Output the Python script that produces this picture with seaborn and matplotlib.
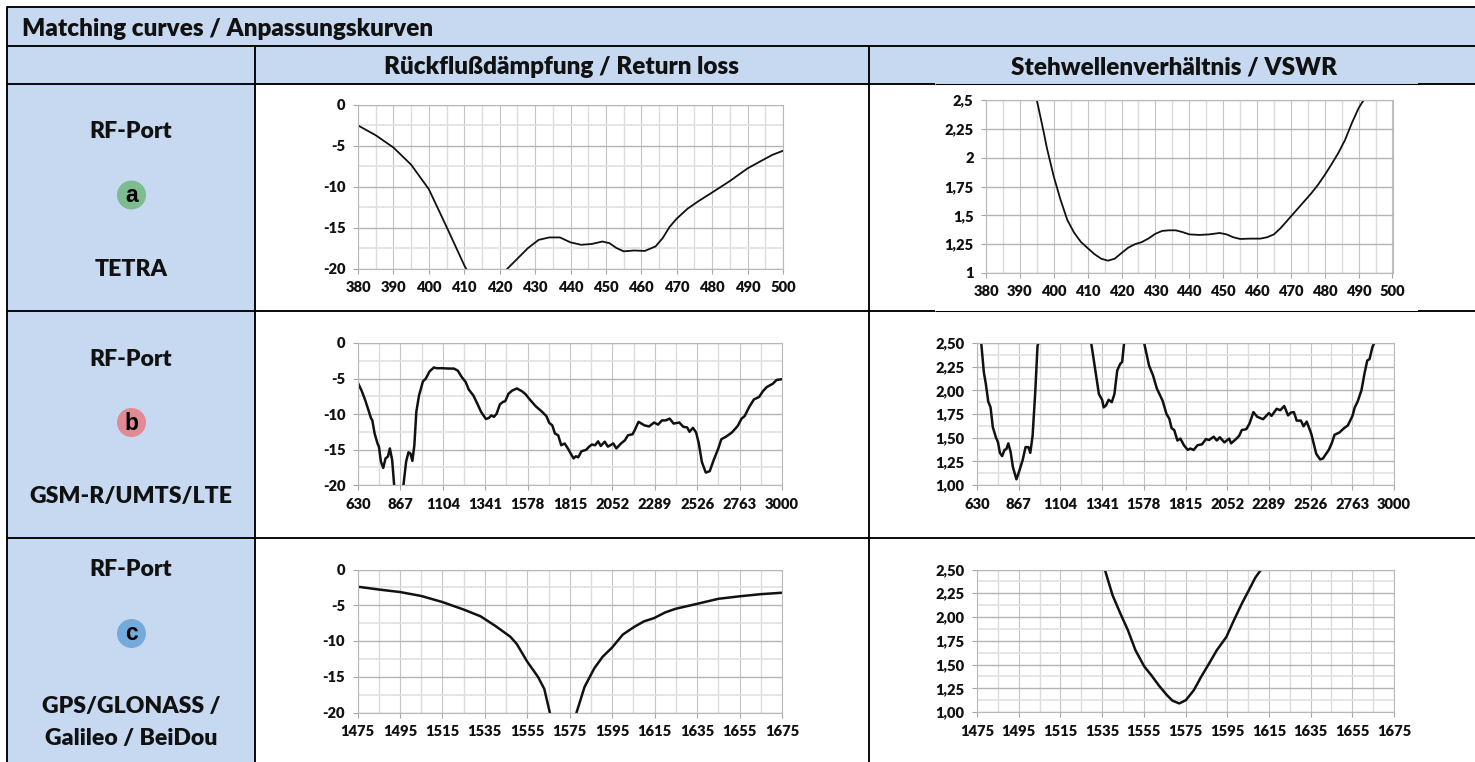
import numpy as np
import matplotlib
matplotlib.use('Agg')
import matplotlib.pyplot as plt
import seaborn as sns
from matplotlib.patches import Rectangle, Circle

# TETRA
tetra_rl_x = [380, 385, 390, 395, 400, 405, 410, 411, 416, 422, 425, 428, 431, 434, 437, 440, 443, 446, 449, 451,
              453, 455, 458, 461, 464, 466, 468, 470, 473, 476, 480, 485, 490, 494, 497, 500]
tetra_rl_y = [-2.5, -3.7, -5.2, -7.3, -10.3, -14.9, -19.6, -20.4, -26, -20.1, -18.8, -17.5, -16.5, -16.2, -16.2, -16.8,
              -17.1, -17.0, -16.7, -16.9, -17.5, -17.9, -17.8, -17.85, -17.3, -16.3, -14.9, -13.9, -12.7, -11.8,
              -10.7, -9.3, -7.75, -6.8, -6.1, -5.6]
tetra_vswr_x = [393, 395, 397, 398, 400, 402, 404, 406, 408, 410, 412, 414, 416, 418, 420, 422, 424, 426, 428, 430,
                432, 434, 436, 438, 440, 443, 446, 449, 451, 453, 455, 458, 461, 463, 465, 467, 470, 473, 476, 478,
                480, 482, 484, 486, 488, 490, 491.5, 493]
tetra_vswr_y = [2.75, 2.5, 2.226, 2.08, 1.837, 1.635, 1.46, 1.35, 1.27, 1.216, 1.164, 1.124, 1.107, 1.124, 1.173, 1.22,
                1.25, 1.268, 1.30, 1.34, 1.365, 1.37, 1.37, 1.355, 1.335, 1.33, 1.335, 1.347, 1.335, 1.31, 1.295,
                1.298, 1.298, 1.31, 1.335, 1.39, 1.49, 1.59, 1.69, 1.765, 1.85, 1.943, 2.04, 2.154, 2.30, 2.43, 2.5, 2.6]

# GSM-R/UMTS/LTE
gsm_rl_x = [630, 650, 671, 689, 702, 710, 723, 739, 747, 758, 771, 784, 797, 808, 821, 832, 841, 867, 884, 899, 912,
            923, 934, 945, 956, 971, 993, 1008, 1030, 1054, 1069, 1101, 1134, 1166, 1188, 1210, 1232, 1249, 1275,
            1297, 1318, 1345, 1362, 1375, 1390, 1405, 1423, 1440, 1453, 1471, 1492, 1518, 1547, 1568, 1590, 1623,
            1655, 1683, 1699, 1716, 1731, 1749, 1766, 1785, 1803, 1822, 1835, 1848, 1861, 1879, 1905, 1922, 1937,
            1955, 1972, 1987, 2009, 2027, 2057, 2074, 2100, 2122, 2139, 2165, 2181, 2198, 2231, 2257, 2285, 2307,
            2329, 2351, 2372, 2394, 2426, 2448, 2470, 2483, 2502, 2520, 2535, 2552, 2574, 2596, 2618, 2644, 2661,
            2687, 2720, 2752, 2774, 2791, 2817, 2843, 2872, 2893, 2915, 2948, 2970, 3000]
gsm_rl_y = [-5.65, -6.7, -8.1, -9.5, -10.55, -10.9, -12.75, -14.15, -14.6, -16.7, -17.6, -16.25, -16.0, -14.85, -16.5,
            -20, -21.9, -21.9, -20, -16.7, -15.4, -15.55, -16.6, -14.4, -9.7, -7.4, -5.4, -5.05, -4.0, -3.45, -3.55,
            -3.55, -3.6, -3.6, -3.9, -4.8, -5.5, -6.55, -7.4, -8.55, -9.7, -10.7, -10.55, -10.2, -10.4, -9.95, -8.65,
            -8.3, -8.2, -7.15, -6.7, -6.4, -6.8, -7.25, -7.95, -8.9, -9.6, -10.3, -11.25, -11.6, -12.75, -13, -14.4,
            -14.15, -14.85, -15.7, -16.25, -15.95, -16.1, -15.25, -15.05, -14.6, -14.3, -14.4, -13.85, -14.5, -13.9,
            -14.6, -14.15, -14.85, -14.15, -13.7, -13, -12.85, -12.05, -11.1, -11.6, -11.75, -11.2, -11.5, -10.9,
            -10.9, -10.65, -11.35, -11.2, -11.8, -11.9, -12.5, -11.95, -12.6, -14.15, -16.75, -18.25, -18.05, -16.5,
            -14.85, -13.55, -13.2, -12.6, -11.7, -10.65, -10.3, -9.0, -7.95, -7.6, -6.8, -6.2, -5.75, -5.2, -5.1]
gsm_vswr_x = [640, 654, 669, 680, 694, 707, 720, 738, 749, 760, 773, 786, 797, 808, 821, 834, 854, 869, 889, 906, 922,
              933, 946, 961, 974, 979, 988, 1100, 1250, 1279, 1301, 1323, 1341, 1350, 1363, 1378, 1396, 1411, 1427,
              1444, 1455, 1466, 1475, 1520, 1580, 1608, 1630, 1652, 1685, 1707, 1723, 1736, 1751, 1769, 1786, 1806,
              1828, 1843, 1861, 1883, 1909, 1931, 1949, 1975, 1993, 2010, 2036, 2063, 2074, 2102, 2120, 2135, 2161,
              2179, 2201, 2223, 2256, 2289, 2304, 2333, 2354, 2376, 2398, 2414, 2431, 2447, 2471, 2486, 2504, 2530,
              2558, 2580, 2596, 2629, 2646, 2662, 2690, 2716, 2738, 2764, 2777, 2793, 2815, 2832, 2848, 2861, 2877,
              2888, 2900]
gsm_vswr_y = [2.9, 2.5, 2.19, 2.07, 1.88, 1.82, 1.61, 1.50, 1.455, 1.34, 1.305, 1.37, 1.38, 1.44, 1.35, 1.19, 1.06,
              1.14, 1.26, 1.40, 1.40, 1.34, 1.52, 1.98, 2.47, 2.5, 2.68, 4.9, 3.0, 2.5, 2.23, 1.96, 1.90, 1.82, 1.84,
              1.90, 1.875, 1.96, 2.21, 2.28, 2.30, 2.5, 2.65, 2.9, 2.5, 2.26, 2.16, 2.02, 1.89, 1.75, 1.70, 1.60, 1.58,
              1.47, 1.49, 1.42, 1.37, 1.385, 1.37, 1.42, 1.43, 1.485, 1.475, 1.51, 1.47, 1.505, 1.45, 1.49, 1.44,
              1.485, 1.52, 1.58, 1.59, 1.65, 1.77, 1.72, 1.695, 1.76, 1.73, 1.805, 1.79, 1.835, 1.735, 1.765, 1.77,
              1.68, 1.68, 1.62, 1.67, 1.54, 1.33, 1.27, 1.28, 1.37, 1.44, 1.53, 1.555, 1.60, 1.63, 1.73, 1.82, 1.88,
              2.0, 2.175, 2.315, 2.33, 2.455, 2.5, 2.6]

# GPS/GLONASS/Galileo/BeiDou
gps_rl_x = [1475, 1485, 1495, 1505, 1515, 1525, 1533, 1540, 1547, 1550, 1555, 1560, 1563, 1565.6, 1568, 1572, 1577,
            1578.2, 1582, 1586.6, 1590.5, 1595, 1600, 1605.5, 1610, 1614.7, 1620, 1624.8, 1635, 1645, 1655, 1665, 1675]
gps_rl_y = [-2.4, -2.8, -3.15, -3.7, -4.55, -5.6, -6.55, -7.9, -9.4, -10.4, -12.9, -15, -16.7, -20, -23, -26, -23,
            -20, -16.4, -13.8, -12.2, -10.9, -9.1, -8.0, -7.25, -6.8, -6.0, -5.5, -4.8, -4.1, -3.75, -3.45, -3.25]
gps_vswr_x = [1534, 1536.3, 1540, 1543.7, 1547.4, 1551, 1555.2, 1558.5, 1562.2, 1566, 1568.7, 1572, 1575.2, 1579,
              1582.5, 1586.3, 1590, 1594.6, 1598.3, 1602, 1605.8, 1608.5, 1611.3, 1614]
gps_vswr_y = [2.6, 2.5, 2.23, 2.04, 1.86, 1.65, 1.48, 1.39, 1.28, 1.18, 1.12, 1.09, 1.125, 1.23, 1.37, 1.51, 1.65,
              1.79, 1.97, 2.14, 2.30, 2.415, 2.5, 2.6]

tetra_ticks = [380, 390, 400, 410, 420, 430, 440, 450, 460, 470, 480, 490, 500]
gsm_ticks = [630, 867, 1104, 1341, 1578, 1815, 2052, 2289, 2526, 2763, 3000]
gps_ticks = [1475, 1495, 1515, 1535, 1555, 1575, 1595, 1615, 1635, 1655, 1675]
rl_ticks = [0, -5, -10, -15, -20]
vswr_ticks = [1, 1.25, 1.5, 1.75, 2, 2.25, 2.5]
vswr_labels_short = ['1', '1,25', '1,5', '1,75', '2', '2,25', '2,5']
vswr_labels_long = ['1,00', '1,25', '1,50', '1,75', '2,00', '2,25', '2,50']

W, H = 1475, 762
BLUE = '#C6D9F1'
HEAD_FONT = 17.5
SIDE_FONT = 16.6
CELL_WEIGHT = 800

sns.set_theme(style='white')
plt.rcParams['font.family'] = ['Lato', 'DejaVu Sans']

fig = plt.figure(figsize=(W / 100, H / 100), dpi=100, facecolor='white')

# table behind the charts, in pixel coordinates
bg = fig.add_axes([0, 0, 1, 1])
bg.set_xlim(0, W)
bg.set_ylim(H, 0)
bg.axis('off')
bg.add_patch(Rectangle((7, 7), W - 7, 77, color=BLUE, lw=0))
bg.add_patch(Rectangle((7, 84), 248, H - 84, color=BLUE, lw=0))

thick = 1.35
thin = 0.75
for y0, x0, x1, lw in [(7, 7, W, thick), (45.5, 7, W, thick),
                       (84, 7, 935, thick), (84, 935, 1418, thin), (84, 1418, W, thick),
                       (311, 7, 935, thick), (311, 935, 1418, thin), (311, 1418, W, thick),
                       (537.5, 7, W, thick)]:
    bg.plot([x0, x1], [y0, y0], color='black', lw=lw, solid_capstyle='butt')
bg.plot([7, 7], [7, H], color='black', lw=thick)
bg.plot([254.5, 254.5], [45.5, H], color='black', lw=thick)
bg.plot([868.5, 868.5], [45.5, H], color='black', lw=thick)

bg.text(22, 29, 'Matching curves / Anpassungskurven', fontsize=HEAD_FONT, fontweight=CELL_WEIGHT, ha='left', va='center', color='#111111')
bg.text(562, 67, 'Rückflußdämpfung / Return loss', fontsize=HEAD_FONT, fontweight=CELL_WEIGHT, ha='center', va='center', color='#111111')
bg.text(1174, 67, 'Stehwellenverhältnis / VSWR', fontsize=HEAD_FONT, fontweight=CELL_WEIGHT, ha='center', va='center', color='#111111')

for txt, yy in [('RF-Port', 132), ('TETRA', 270), ('RF-Port', 359), ('GSM-R/UMTS/LTE', 496),
                ('RF-Port', 570), ('GPS/GLONASS /', 707), ('Galileo / BeiDou', 739)]:
    bg.text(131, yy, txt, fontsize=SIDE_FONT, fontweight=CELL_WEIGHT, ha='center', va='center', color='#111111')

for letter, cy, col in [('a', 195, '#7DBB91'), ('b', 422.5, '#E08A96'), ('c', 633.5, '#74ABDC')]:
    bg.add_patch(Circle((131.5, cy), 14.5, color=col, lw=0))
    bg.text(131.5, cy + 0.5, letter, fontsize=16.5, fontweight='bold', family='Liberation Sans', ha='center', va='center', color='black')


def panel(box, xs, ys, xticks, yticks, ylabels, yminor, lw):
    l, r, t, b = box
    ax = fig.add_axes([l / W, 1 - b / H, (r - l) / W, (b - t) / H], facecolor='white')
    sns.lineplot(x=xs, y=ys, ax=ax, color='#111111', lw=lw, estimator=None, sort=False)
    ax.set_xlim(xticks[0], xticks[-1])
    ax.set_ylim(min(yticks), max(yticks))
    ax.set_xticks(xticks)
    ax.set_xticklabels([str(v) for v in xticks])
    ax.set_yticks(yticks)
    ax.set_yticklabels(ylabels)
    ax.set_xticks((np.array(xticks[:-1]) + np.array(xticks[1:])) / 2, minor=True)
    ax.set_yticks(yminor, minor=True)
    ax.set_axisbelow(True)
    ax.grid(True, which='major', axis='x', color='#C4C4C4', lw=0.8)
    ax.grid(True, which='minor', axis='x', color='#DCDCDC', lw=1.0)
    ax.grid(True, which='major', axis='y', color='#B4B4B4', lw=1.0)
    ax.grid(True, which='minor', axis='y', color='#E0E0E0', lw=1.2)
    ax.tick_params(axis='both', which='major', length=3.5, width=0.8, color='#A6A6A6', pad=5.5,
                   left=True, bottom=True, labelsize=10.6, labelcolor='#111111')
    ax.tick_params(axis='both', which='minor', length=0)
    for lab in ax.get_xticklabels() + ax.get_yticklabels():
        lab.set_fontweight(CELL_WEIGHT)
    for side in ax.spines:
        ax.spines[side].set_color('#B8B8B8')
        ax.spines[side].set_linewidth(0.8)
    ax.set_xlabel('')
    ax.set_ylabel('')
    return ax


rl_minor = [-2.5, -7.5, -12.5, -17.5]
vswr_minor = [1.125, 1.375, 1.625, 1.875, 2.125, 2.375]
panel((358, 783, 105, 268.5), tetra_rl_x, tetra_rl_y, tetra_ticks, rl_ticks, [str(v) for v in rl_ticks], rl_minor, 1.3)
panel((986, 1392.5, 100, 273), tetra_vswr_x, tetra_vswr_y, tetra_ticks, vswr_ticks, vswr_labels_short, [], 1.3)
panel((358, 782, 343, 485), gsm_rl_x, gsm_rl_y, gsm_ticks, rl_ticks, [str(v) for v in rl_ticks], rl_minor, 1.8)
panel((977, 1394, 343, 485), gsm_vswr_x, gsm_vswr_y, gsm_ticks, vswr_ticks, vswr_labels_long, vswr_minor, 1.8)
panel((357.5, 782, 569.5, 712.5), gps_rl_x, gps_rl_y, gps_ticks, rl_ticks, [str(v) for v in rl_ticks], rl_minor, 1.8)
panel((977, 1394, 569.5, 712), gps_vswr_x, gps_vswr_y, gps_ticks, vswr_ticks, vswr_labels_long, vswr_minor, 1.8)

fig.savefig('out.png', dpi=100)
